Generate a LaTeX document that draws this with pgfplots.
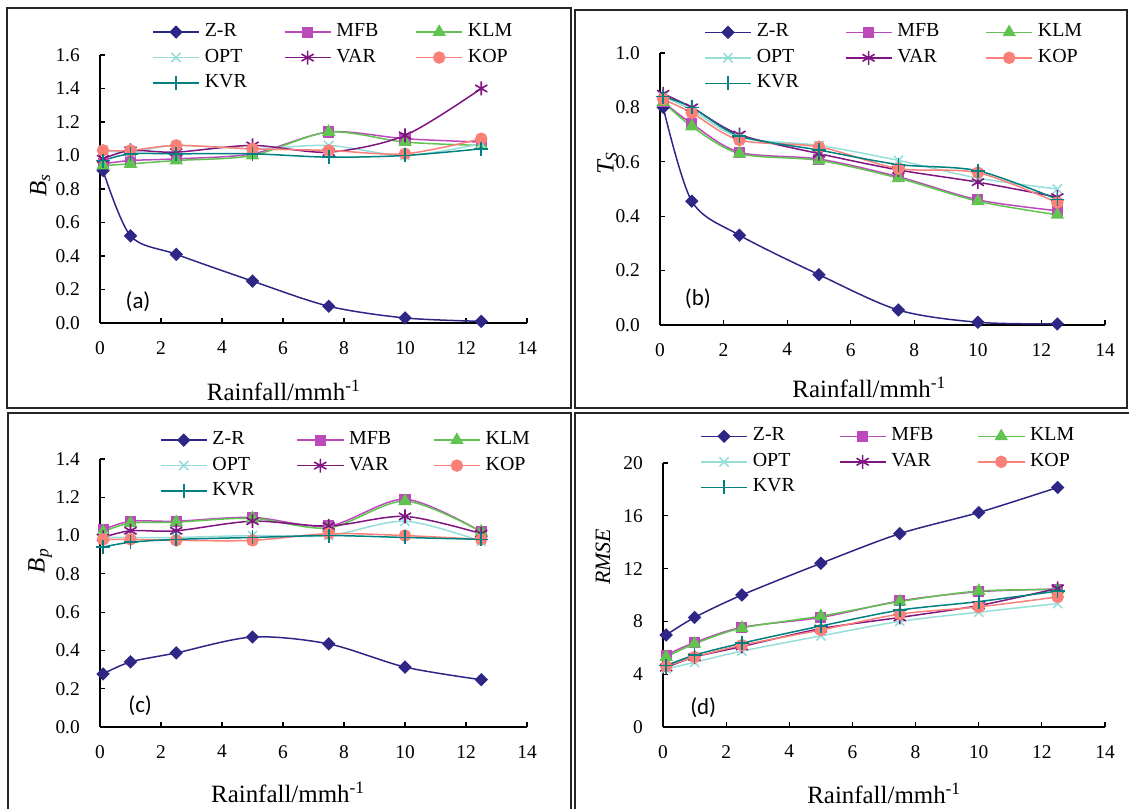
\documentclass[border=0pt]{standalone}
\usepackage{pgfplots}
\usepackage{pgfplotstable}
\pgfplotsset{compat=1.18}
\usepackage{fontspec}
\setmainfont{Liberation Serif}
\newfontfamily\califont{Carlito}

\definecolor{czr}{RGB}{47,39,133}
\definecolor{cmfb}{RGB}{187,75,187}
\definecolor{cklm}{RGB}{97,196,80}
\definecolor{copt}{RGB}{150,222,218}
\definecolor{cvar}{RGB}{128,20,128}
\definecolor{ckop}{RGB}{250,128,120}
\definecolor{ckvr}{RGB}{0,128,128}

\pgfplotstableread{
x    ZR    MFB   KLM   OPT   VAR   KOP   KVR
0.1  0.91  0.95  0.94  1.03  0.98  1.03  0.97
1    0.52  0.97  0.95  1.02  1.03  1.03  1.01
2.5  0.41  0.98  0.97  1.06  1.02  1.06  1.01
5    0.25  1.01  1.00  1.04  1.06  1.04  1.01
7.5  0.10  1.14  1.14  1.06  1.02  1.03  0.99
10   0.03  1.10  1.08  1.00  1.12  1.01  1.00
12.5 0.01  1.08  1.06  1.07  1.40  1.10  1.04
}\tabA
\pgfplotstableread{
x    ZR     MFB   KLM   OPT   VAR   KOP   KVR
0.1  0.80   0.82  0.82  0.84  0.85  0.83  0.84
1    0.455  0.74  0.73  0.79  0.80  0.78  0.80
2.5  0.33   0.635 0.63  0.69  0.70  0.68  0.695
5    0.185  0.61  0.605 0.66  0.63  0.655 0.643
7.5  0.055  0.545 0.54  0.605 0.57  0.575 0.59
10   0.01   0.46  0.455 0.54  0.525 0.56  0.567
12.5 0.004  0.42  0.405 0.50  0.47  0.45  0.462
}\tabB
\pgfplotstableread{
x    ZR     MFB   KLM   OPT   VAR   KOP   KVR
0.1  0.277  1.03  1.02  0.99  0.99  0.98  0.94
1    0.34   1.075 1.065 0.99  1.025 0.98  0.965
2.5  0.387  1.075 1.07  0.99  1.025 0.975 0.98
5    0.47   1.095 1.09  1.00  1.075 0.975 0.99
7.5  0.434  1.05  1.04  1.00  1.05  1.01  1.00
10   0.313  1.19  1.18  1.075 1.10  1.00  0.99
12.5 0.247  1.02  1.02  0.97  1.01  0.98  0.98
}\tabC
\pgfplotstableread{
x    ZR     MFB   KLM   OPT   VAR   KOP   KVR
0.1  6.97   5.45  5.3   4.4   4.5   4.6   4.65
1    8.3    6.4   6.3   4.9   5.3   5.3   5.45
2.5  10.0   7.55  7.5   5.75  6.1   6.2   6.35
5    12.4   8.3   8.4   6.9   7.45  7.35  7.65
7.5  14.65  9.55  9.5   8.0   8.3   8.55  8.85
10   16.25  10.25 10.3  8.7   9.2   9.1   9.5
12.5 18.15  10.45 10.4  9.35  10.5  9.85  10.3
}\tabD

\pgfplotsset{
  sZR/.style={color=czr, line width=1.5bp, smooth, mark=square*, mark size=4bp, mark options={rotate=45, solid, fill=czr}},
  sMFB/.style={color=cmfb, line width=1.5bp, smooth, mark=square*, mark size=4.8bp, mark options={solid, fill=cmfb}},
  sKLM/.style={color=cklm, line width=1.5bp, smooth, mark=triangle*, mark size=6.3bp, mark options={solid, fill=cklm}},
  sOPT/.style={color=copt, line width=1.5bp, smooth, mark=x, mark size=6.5bp, mark options={solid, line width=1.6bp}},
  sVAR/.style={color=cvar, line width=1.5bp, smooth, mark=asterisk, mark size=7bp, mark options={solid, line width=1.6bp}},
  sKOP/.style={color=ckop, line width=1.5bp, smooth, mark=*, mark size=5.5bp, mark options={solid, fill=ckop}},
  sKVR/.style={color=ckvr, line width=1.5bp, smooth, mark=+, mark size=7bp, mark options={solid, line width=1.6bp}},
  panel/.style={
    scale only axis,
    axis lines*=left,
    axis line style={line width=1.3bp, black, -},
    xmin=0, xmax=14, ymin=0,
    xtick={0,2,...,14},
    tick align=inside,
    major tick length=5bp,
    tick style={line width=1.2bp, black},
    ticklabel style={font=\fontsize{19.5}{20}\selectfont},
    /pgf/number format/assume math mode=true,
    xticklabel style={inner sep=0pt, anchor=north, yshift=-18bp},
    yticklabel style={inner sep=0pt, anchor=east, xshift=-20bp},
    clip=false,
    legend columns=3,
    legend cell align=left,
    legend style={draw=none, fill=none, inner sep=0pt, anchor=north west,
      font=\fontsize{20}{22}\selectfont,
      nodes={inner sep=0pt, text height=13bp, text depth=4bp},
      row sep=8.5bp,
      /tikz/every odd column/.append style={column sep=5bp}},
    legend image code/.code={\draw[mark repeat=2,mark phase=2,##1] plot coordinates {(0bp,0bp) (23bp,0bp) (46bp,0bp)};},
    xlabel={Rainfall/mmh\textsuperscript{-1}},
    xlabel style={anchor=center, font=\fontsize{25}{26}\selectfont},
    ylabel style={anchor=center, font=\fontsize{25}{26}\selectfont},
  },
}

\newcommand{\allplots}[1]{%
  \addplot[sZR] table[x=x,y=ZR] {#1};
  \addplot[sMFB] table[x=x,y=MFB] {#1};
  \addplot[sKLM] table[x=x,y=KLM] {#1};
  \addplot[sOPT] table[x=x,y=OPT] {#1};
  \addplot[sVAR] table[x=x,y=VAR] {#1};
  \addplot[sKOP] table[x=x,y=KOP] {#1};
  \addplot[sKVR] table[x=x,y=KVR] {#1};
  \legend{Z-R,MFB,KLM,OPT,VAR,KOP,KVR}
}

\begin{document}
\begin{tikzpicture}[x=1bp,y=1bp]
% frames
\draw[line width=1.3bp, black!85] (7,401) rectangle (571,801);
\draw[line width=1.3bp, black!85] (575,401) rectangle (1127,799);
\draw[line width=1.3bp, black!85] (8,396) rectangle (571,-3);
\draw[line width=1.3bp, black!85] (575,396) rectangle (1132,-3);

% (a)
\begin{axis}[panel, at={(100bp,486bp)}, anchor=south west,
  width=427bp, height=268bp, ymax=1.6, ytick={0,0.2,...,1.6},
  yticklabel style={/pgf/number format/.cd, fixed, fixed zerofill, precision=1},
  legend style={at={(axis description cs:0.122,1.118)},
    /tikz/every even column/.append style={column sep=37bp}},
  xlabel style={at={(axis description cs:0.43,-0.25)}},
  ylabel={\itshape B\textsubscript{s}},
  ylabel style={at={(axis description cs:-0.14,0.515)}},
]
\allplots{\tabA}
\node[font=\califont\fontsize{23}{24}\selectfont] at (axis description cs:0.089,0.078) {(a)};
\end{axis}

% (b)
\begin{axis}[panel, at={(660bp,484bp)}, anchor=south west,
  width=445bp, height=272bp, ymax=1.0, ytick={0,0.2,...,1.0},
  yticklabel style={/pgf/number format/.cd, fixed, fixed zerofill, precision=1},
  legend style={at={(axis description cs:0.099,1.108)},
    /tikz/every even column/.append style={column sep=46bp}},
  xlabel style={at={(axis description cs:0.47,-0.23)}},
  ylabel={\itshape T\textsubscript{S}},
  ylabel style={at={(axis description cs:-0.118,0.594)}},
]
\allplots{\tabB}
\node[font=\califont\fontsize{23}{24}\selectfont] at (axis description cs:0.085,0.096) {(b)};
\end{axis}

% (c)
\begin{axis}[panel, at={(100bp,82bp)}, anchor=south west,
  width=427bp, height=268bp, ymax=1.4, ytick={0,0.2,...,1.4},
  yticklabel style={/pgf/number format/.cd, fixed, fixed zerofill, precision=1},
  legend style={at={(axis description cs:0.14,1.103)},
    /tikz/every even column/.append style={column sep=42bp}},
  xlabel style={at={(axis description cs:0.44,-0.245)}},
  ylabel={\itshape B\textsubscript{p}},
  ylabel style={at={(axis description cs:-0.14,0.62)}},
]
\allplots{\tabC}
\node[font=\califont\fontsize{23}{24}\selectfont] at (axis description cs:0.094,0.078) {(c)};
\end{axis}

% (d)
\begin{axis}[panel, at={(663bp,82bp)}, anchor=south west,
  width=442bp, height=264bp, ymax=20, ytick={0,4,...,20},
  legend style={at={(axis description cs:0.084,1.134)},
    /tikz/every even column/.append style={column sep=44bp}},
  xlabel style={at={(axis description cs:0.5,-0.25)}},
  ylabel={\itshape RMSE},
  ylabel style={at={(axis description cs:-0.136,0.644)}, font=\fontsize{22}{24}\selectfont},
]
\allplots{\tabD}
\node[font=\califont\fontsize{23}{24}\selectfont] at (axis description cs:0.091,0.072) {(d)};
\end{axis}

\pgfresetboundingbox
\useasboundingbox (0,0) rectangle (1129,809);
\end{tikzpicture}
\end{document}
